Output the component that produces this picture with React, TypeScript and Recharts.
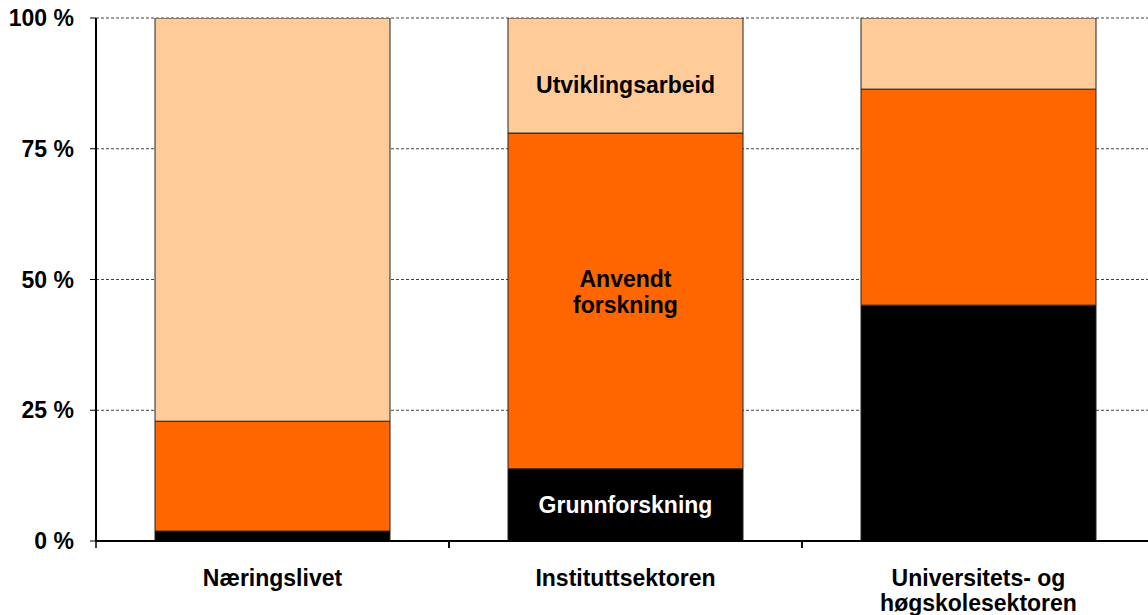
import { BarChart, Bar, XAxis, YAxis, CartesianGrid, LabelList } from "recharts";

const categories = ["Næringslivet", "Instituttsektoren", "Universitets- og høgskolesektoren"];
const categoryLines = [["Næringslivet"], ["Instituttsektoren"], ["Universitets- og", "høgskolesektoren"]];
const grunnforskning = [1.9, 13.8, 45.1];
const anvendt = [21.0, 64.2, 41.3];
const utvikling = [77.1, 22.0, 13.6];
const yTicks = [0, 25, 50, 75, 100];

const data = categories.map((name, i) => ({
  name,
  idx: i,
  grunn: grunnforskning[i],
  anvendt: anvendt[i],
  utvikling: utvikling[i],
}));

const FONT = "'Liberation Sans', Arial, sans-serif";
const FS = 23;

const CategoryTick = (props: any) => {
  const { x, y, payload, index } = props;
  const half = payload && payload.offset ? payload.offset : 176.5;
  const lines = categoryLines[index] || [String(payload.value)];
  return (
    <g>
      <line x1={x - half} x2={x - half} y1={y} y2={y + 7} stroke="#000" strokeWidth={1.5} />
      <line x1={x + half} x2={x + half} y1={y} y2={y + 7} stroke="#000" strokeWidth={1.5} />
      <text x={x} y={y + 45} textAnchor="middle" fontFamily={FONT} fontWeight="bold" fontSize={FS} fill="#000">
        {lines.map((l, i) => (
          <tspan key={i} x={x} dy={i === 0 ? 0 : 25}>
            {l}
          </tspan>
        ))}
      </text>
    </g>
  );
};

const segmentLabel = (lines: string[], color: string, shift: number) => (props: any) => {
  const { x, y, width, height, index } = props;
  if (index !== 1) return null;
  const cx = x + width / 2;
  const cy = y + height / 2 + shift - ((lines.length - 1) * 26) / 2;
  return (
    <text x={cx} y={cy} textAnchor="middle" dominantBaseline="central" fontFamily={FONT} fontWeight="bold" fontSize={FS} fill={color}>
      {lines.map((l, i) => (
        <tspan key={i} x={cx} dy={i === 0 ? 0 : 26}>
          {l}
        </tspan>
      ))}
    </text>
  );
};

export default function App() {
  return (
    <div style={{ position: "absolute", left: 0, top: 0, width: 1148, height: 615, overflow: "hidden", background: "#fff" }}>
      <BarChart width={1160} height={615} data={data} margin={{ top: 18, right: 5, left: 0, bottom: 0 }}>
        <CartesianGrid vertical={false} strokeDasharray="3 2" stroke="#444" />
        <XAxis
          dataKey="name"
          height={74}
          tick={<CategoryTick />}
          tickLine={false}
          tickSize={0}
          tickMargin={0}
          axisLine={{ stroke: "#000", strokeWidth: 2 }}
          interval={0}
        />
        <YAxis
          width={96}
          domain={[0, 100]}
          ticks={yTicks}
          tickFormatter={(v) => `${v} %`}
          tickSize={6}
          tickMargin={16}
          axisLine={{ stroke: "#000", strokeWidth: 2 }}
          tickLine={{ stroke: "#000" }}
          tick={{ fill: "#000", fontFamily: FONT, fontWeight: "bold", fontSize: FS }}
          allowDataOverflow
        />
        <Bar dataKey="grunn" stackId="a" fill="#000000" stroke="#222" strokeWidth={1} barSize={235} isAnimationActive={false}>
          <LabelList dataKey="grunn" content={segmentLabel(["Grunnforskning"], "#fff", 0)} />
        </Bar>
        <Bar dataKey="anvendt" stackId="a" fill="#FF6600" stroke="#222" strokeWidth={1} barSize={235} isAnimationActive={false}>
          <LabelList dataKey="anvendt" content={segmentLabel(["Anvendt", "forskning"], "#000", -9)} />
        </Bar>
        <Bar dataKey="utvikling" stackId="a" fill="#FFCC99" stroke="#222" strokeWidth={1} barSize={235} isAnimationActive={false}>
          <LabelList dataKey="utvikling" content={segmentLabel(["Utviklingsarbeid"], "#000", 9)} />
        </Bar>
      </BarChart>
    </div>
  );
}
